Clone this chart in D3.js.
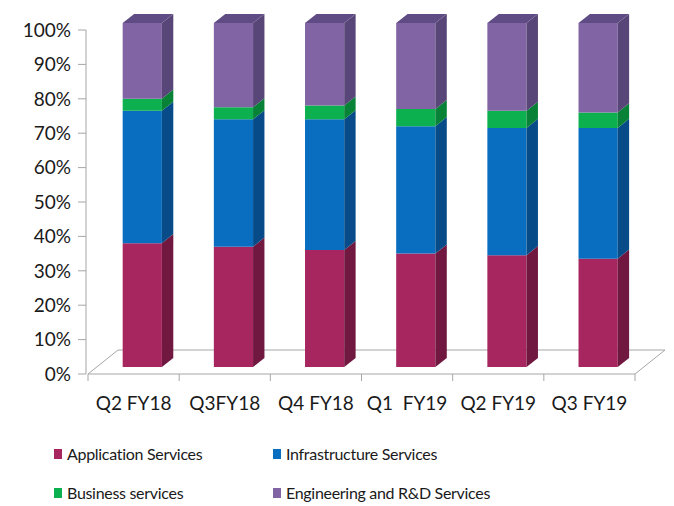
<!DOCTYPE html>
<html>
<head>
<meta charset="utf-8">
<script src="https://cdn.jsdelivr.net/npm/d3@7"></script>
<style>
  html, body { margin: 0; padding: 0; background: #fff; }
  svg { display: block; }
  text { font-family: Lato, "Open Sans", sans-serif; fill: #1a1a1a; }
</style>
</head>
<body>
<svg id="chart" width="674" height="506"></svg>
<script>
// Revenue mix by service line, share of total (%)
const quarters = ["Q2 FY18", "Q3FY18", "Q4 FY18", "Q1  FY19", "Q2 FY19", "Q3 FY19"];
const applicationServices    = [36.0, 35.0, 34.0, 33.0, 32.5, 31.5];
const infrastructureServices = [38.5, 37.0, 38.0, 37.0, 37.0, 38.0];
const businessServices       = [3.5, 3.5, 4.0, 5.0, 5.0, 4.5];
const engineeringServices    = [22.0, 24.5, 24.0, 25.0, 25.5, 26.0];
const percentTicks = [0, 10, 20, 30, 40, 50, 60, 70, 80, 90, 100];

const seriesNames = ["Application Services", "Infrastructure Services", "Business services", "Engineering and R&D Services"];
const seriesValues = [applicationServices, infrastructureServices, businessServices, engineeringServices];
const frontColors = ["#A8265F", "#0A6EC0", "#0DB04E", "#8064A4"];
const sideColors  = ["#701840", "#074C88", "#078236", "#594678"];
const topColors   = ["#8A1F4E", "#095C9F", "#0A9A44", "#604C84"];

const svg = d3.select("#chart");

// Oblique projection: depth z in [0,1] shifts right and up
const depthX = 30, depthY = 24;
const x = d3.scaleBand().domain(quarters).range([88, 635]);
const y = d3.scaleLinear().domain([0, 100]).range([374, 30]);
const proj = (px, v, z) => [px + z * depthX, y(v) - z * depthY];

// Rows for the stack
const rows = quarters.map((q, i) => {
  const r = { quarter: q };
  seriesNames.forEach((s, k) => { r[s] = seriesValues[k][i]; });
  return r;
});
const stacked = d3.stack().keys(seriesNames)(rows);

// Floor
const x0 = x.range()[0], x1 = x.range()[1];
const floorPts = [proj(x0, 0, 0), proj(x1, 0, 0), proj(x1, 0, 1), proj(x0, 0, 1)];
svg.append("polygon")
  .attr("points", floorPts.map(p => p.join(",")).join(" "))
  .attr("fill", "#fff")
  .attr("stroke", "#a6a6a6")
  .attr("stroke-width", 1);

// Vertical axis
svg.append("line")
  .attr("x1", 86).attr("x2", 86)
  .attr("y1", y(0)).attr("y2", y(100))
  .attr("stroke", "#a6a6a6");
const yTicks = svg.append("g");
yTicks.selectAll("line").data(percentTicks).join("line")
  .attr("x1", 78).attr("x2", 86)
  .attr("y1", d => y(d)).attr("y2", d => y(d))
  .attr("stroke", "#a6a6a6");
yTicks.selectAll("text").data(percentTicks).join("text")
  .attr("x", 71).attr("y", d => y(d))
  .attr("dy", "0.36em")
  .attr("text-anchor", "end")
  .attr("font-size", 19)
  .text(d => d + "%");

// Category ticks along the front floor edge
const catEdges = quarters.map(q => x(q)).concat([x1]);
svg.append("g").selectAll("line").data(catEdges).join("line")
  .attr("x1", d => d).attr("x2", d => d)
  .attr("y1", y(0)).attr("y2", y(0) + 7)
  .attr("stroke", "#a6a6a6");
svg.append("g").selectAll("text").data(quarters).join("text")
  .attr("x", d => x(d) + x.bandwidth() / 2)
  .attr("y", 410)
  .attr("text-anchor", "middle")
  .attr("font-size", 19)
  .style("white-space", "pre")
  .text(d => d);

// Bars
const zFront = 0.29, zBack = 0.67;
const barW = x.bandwidth() * 0.43;
const barLeft = q => x(q) + (x.bandwidth() - barW) / 2;
const poly = pts => pts.map(p => p.join(",")).join(" ");

const bars = svg.append("g");
quarters.forEach((q, i) => {
  const g = bars.append("g");
  const lx = barLeft(q), rx = lx + barW;
  stacked.forEach((layer, k) => {
    const [v0, v1] = layer[i];
    // front face
    g.append("polygon")
      .attr("points", poly([proj(lx, v0, zFront), proj(rx, v0, zFront), proj(rx, v1, zFront), proj(lx, v1, zFront)]))
      .attr("fill", frontColors[k]);
    // right side face
    g.append("polygon")
      .attr("points", poly([proj(rx, v0, zFront), proj(rx, v0, zBack), proj(rx, v1, zBack), proj(rx, v1, zFront)]))
      .attr("fill", sideColors[k]);
    // top face of the top segment
    if (k === stacked.length - 1) {
      g.append("polygon")
        .attr("points", poly([proj(lx, v1, zFront), proj(rx, v1, zFront), proj(rx, v1, zBack), proj(lx, v1, zBack)]))
        .attr("fill", topColors[k]);
    }
  });
});

// Legend
const legendPos = [[54, 454], [273, 454], [54, 493], [273, 493]];
const legend = svg.append("g");
seriesNames.forEach((s, k) => {
  const [lx, ly] = legendPos[k];
  legend.append("rect")
    .attr("x", lx).attr("y", ly - 5)
    .attr("width", 8).attr("height", 10)
    .attr("fill", frontColors[k]);
  legend.append("text")
    .attr("x", lx + 13).attr("y", ly)
    .attr("dy", "0.36em")
    .attr("font-size", 16)
    .attr("letter-spacing", "-0.3px")
    .text(s);
});
</script>
</body>
</html>
